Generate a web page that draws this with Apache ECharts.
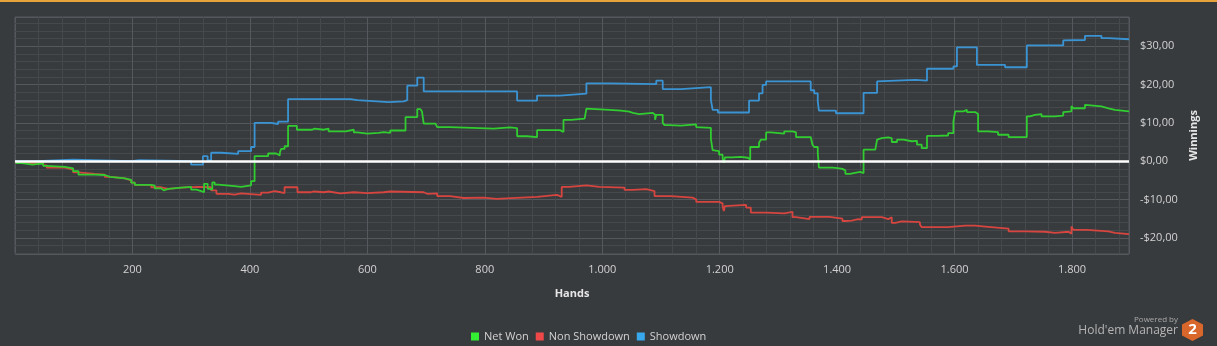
<!DOCTYPE html>
<html>
<head>
<meta charset="utf-8">
<script src="https://cdn.jsdelivr.net/npm/echarts@6/dist/echarts.min.js"></script>
<style>
  html, body { margin: 0; padding: 0; background: #383b3e; }
  #chart { width: 1217px; height: 346px; }
</style>
</head>
<body>
<div id="chart"></div>
<script>
// Cumulative winnings per hand: [hand, dollars], each value holds until the next hand listed
const netWon = [
  [1,-0.5],[12,-0.9],[30,-0.7],[40,-0.6],[48,-1.2],[54,-1.5],[85,-1.9],[99,-2.6],[108,-3.5],[136,-3.6],
  [153,-4.1],[162,-4.5],[187,-4.9],[198,-5.6],[204,-6.2],[232,-6.4],[238,-7.1],[249,-7.6],[253,-7.2],[261,-6.9],
  [283,-6.7],[300,-7.4],[309,-7.8],[317,-8.1],[322,-5.9],[328,-7.2],[332,-7.4],[336,-5.5],[340,-6.1],[346,-6.5],
  [374,-6.7],[385,-6.3],[402,-5.2],[408,1.3],[431,2.0],[445,1.5],[451,2.2],[453,3.2],[459,3.9],[465,9.2],
  [480,8.2],[506,8.5],[510,8.2],[526,8.5],[534,7.8],[563,8.2],[577,7.5],[583,7.2],[600,7.4],[619,7.6],
  [628,7.4],[639,8.0],[665,11.5],[685,13.6],[690,13.4],[693,13.0],[696,9.8],[716,9.3],[719,8.9],[741,8.5],
  [815,8.8],[843,8.6],[855,6.5],[872,6.3],[889,8.1],[928,7.6],[934,10.8],[947,11.1],[970,11.3],[973,13.7],
  [976,13.4],[1012,13.2],[1032,12.9],[1046,12.6],[1052,12.3],[1063,12.6],[1086,12.1],[1090,10.8],[1092,12.1],[1103,10.0],
  [1106,9.4],[1114,9.3],[1134,9.6],[1160,8.9],[1163,8.7],[1185,5.8],[1188,2.9],[1191,2.6],[1199,1.7],[1205,0.7],
  [1207,-0.4],[1209,1.0],[1222,1.1],[1236,0.9],[1248,0.4],[1252,3.7],[1267,4.8],[1270,5.6],[1279,7.5],[1287,7.2],
  [1310,7.8],[1324,7.5],[1330,6.3],[1355,6.4],[1358,4.3],[1361,3.7],[1367,2.2],[1369,-1.7],[1392,-1.8],[1401,-2.0],
  [1409,-2.4],[1414,-3.3],[1422,-2.8],[1439,-3.1],[1445,3.0],[1465,2.7],[1468,5.6],[1470,6.0],[1476,6.2],[1487,6.0],
  [1493,5.0],[1502,5.6],[1513,5.2],[1527,5.3],[1536,4.3],[1544,3.4],[1553,6.6],[1570,6.7],[1589,7.3],[1598,10.4],
  [1601,13.0],[1615,13.4],[1621,12.8],[1635,12.3],[1640,7.8],[1657,7.6],[1674,6.9],[1692,6.3],[1723,11.7],[1728,12.1],
  [1737,12.3],[1748,11.7],[1771,11.9],[1785,12.8],[1788,13.0],[1799,14.4],[1802,13.8],[1822,14.7],[1825,14.3],[1850,13.8],
  [1862,13.4],[1873,13.0],[1897,13.0]
];

const nonShowdown = [
  [1,-0.4],[12,-0.6],[40,-0.4],[48,-1.1],[54,-1.7],[85,-2.2],[99,-2.9],[108,-3.3],[136,-3.5],[153,-4.1],
  [164,-4.5],[187,-5.0],[198,-5.6],[204,-6.2],[232,-6.8],[249,-7.2],[261,-6.9],[283,-6.7],[312,-6.8],[334,-7.6],
  [343,-8.5],[363,-8.7],[374,-8.4],[385,-8.8],[419,-8.2],[431,-7.8],[442,-8.1],[453,-8.3],[459,-6.8],[481,-8.1],
  [503,-7.9],[509,-8.1],[526,-7.9],[534,-8.4],[554,-8.1],[577,-8.3],[600,-8.1],[628,-7.9],[639,-8.1],[696,-8.5],
  [702,-8.4],[719,-9.1],[741,-9.6],[764,-9.5],[798,-9.8],[820,-9.3],[889,-8.8],[923,-9.3],[931,-6.7],[944,-6.3],
  [973,-6.7],[995,-6.9],[1038,-7.5],[1052,-7.3],[1075,-7.8],[1089,-9.1],[1117,-9.5],[1154,-10.0],[1160,-10.6],[1199,-11.0],
  [1205,-11.7],[1207,-13.0],[1209,-11.7],[1211,-11.4],[1245,-12.1],[1253,-13.4],[1279,-13.6],[1310,-13.2],[1324,-14.6],[1330,-15.1],
  [1353,-14.5],[1387,-15.0],[1409,-15.6],[1414,-15.5],[1425,-15.1],[1436,-15.2],[1442,-14.6],[1476,-15.1],[1487,-14.6],[1493,-16.1],
  [1499,-15.7],[1510,-15.9],[1541,-16.5],[1544,-17.2],[1589,-16.8],[1618,-16.3],[1621,-16.8],[1635,-17.1],[1657,-17.6],[1692,-18.3],
  [1720,-18.4],[1754,-18.7],[1771,-18.4],[1794,-18.9],[1799,-17.0],[1802,-17.9],[1825,-18.3],[1862,-18.7],[1873,-19.0],[1897,-19.0]
];

const showdown = [
  [1,0],[37,0.4],[99,0],[198,0.25],[212,0],[300,-0.9],[320,1.3],[328,0.2],[334,2.2],[351,1.9],
  [380,2.6],[402,3.7],[408,10.0],[436,9.7],[448,10.3],[465,16.2],[571,15.9],[583,15.4],[636,15.6],[662,15.9],
  [668,19.7],[685,21.8],[696,18.2],[855,15.8],[889,17.1],[928,17.6],[973,20.3],[1015,20.1],[1092,21.0],[1103,18.8],
  [1134,19.3],[1185,16.0],[1188,13.4],[1197,12.7],[1250,15.8],[1267,17.7],[1273,19.9],[1279,20.8],[1355,18.5],[1361,17.7],
  [1367,15.6],[1369,13.2],[1398,12.5],[1445,17.8],[1468,20.8],[1470,21.2],[1533,21.0],[1553,24.1],[1598,24.7],[1604,29.7],
  [1638,25.1],[1686,24.5],[1723,30.2],[1785,31.5],[1788,31.6],[1822,32.7],[1850,32.1],[1862,31.8],[1897,31.8]
];

const seriesNames = ['Net Won', 'Non Showdown', 'Showdown'];
const handsRange = [0, 1897];
const winningsRange = [-24.2, 37.6];

const FONT = '"Open Sans", "DejaVu Sans", sans-serif';
const GRID_MAJOR = '#55595d';
const GRID_MINOR = '#45494c';
const LABEL_COLOR = '#d2d2d2';

function handLabel(v) {
  if (v <= 0 || v % 200 !== 0) return '';
  if (v >= 1000) return Math.floor(v / 1000) + '.' + String(v % 1000).padStart(3, '0');
  return String(v);
}

function dollarLabel(v) {
  const r = Math.round(v);
  if (Math.abs(v - r) > 1e-6 || r % 10 !== 0) return '';
  return (r < 0 ? '-' : '') + '$' + Math.abs(r).toFixed(2).replace('.', ',');
}

const chart = echarts.init(document.getElementById('chart'), null, { renderer: 'canvas' });

chart.setOption({
  backgroundColor: '#383b3e',
  animation: false,
  textStyle: { fontFamily: FONT },
  grid: {
    left: 15, top: 17, right: 88, bottom: 92,
    show: true, borderColor: GRID_MAJOR, borderWidth: 1, backgroundColor: 'transparent'
  },
  legend: {
    left: 466, top: 326,
    icon: 'rect', itemWidth: 8, itemHeight: 8, itemGap: 7,
    textStyle: { color: LABEL_COLOR, fontSize: 11, fontFamily: FONT },
    data: [
      { name: seriesNames[0], itemStyle: { color: '#33ee33' } },
      { name: seriesNames[1], itemStyle: { color: '#ee4848' } },
      { name: seriesNames[2], itemStyle: { color: '#38a8ec' } }
    ]
  },
  xAxis: {
    type: 'value',
    min: handsRange[0], max: handsRange[1], interval: 200,
    name: 'Hands', nameLocation: 'middle', nameGap: 34,
    nameTextStyle: { color: '#e6e6e6', fontWeight: 'bold', fontSize: 11, fontFamily: FONT },
    axisLine: { show: true, lineStyle: { color: GRID_MAJOR } },
    axisTick: { show: true, length: 5, lineStyle: { color: GRID_MAJOR } },
    minorTick: { show: true, splitNumber: 5, length: 5, lineStyle: { color: GRID_MAJOR } },
    splitLine: { show: true, lineStyle: { color: GRID_MAJOR, width: 1 } },
    minorSplitLine: { show: true, lineStyle: { color: GRID_MINOR, width: 1 } },
    axisLabel: { color: LABEL_COLOR, fontSize: 11, margin: 10, formatter: handLabel, fontFamily: FONT }
  },
  yAxis: {
    type: 'value', position: 'right',
    min: winningsRange[0], max: winningsRange[1],
    splitNumber: 6, minInterval: 10, maxInterval: 10,
    name: 'Winnings', nameLocation: 'middle', nameGap: 58, nameRotate: 90,
    nameTextStyle: { color: '#e6e6e6', fontWeight: 'bold', fontSize: 11, fontFamily: FONT },
    axisLine: { show: false },
    axisTick: { show: true, length: 8, lineStyle: { color: GRID_MAJOR } },
    minorTick: { show: true, splitNumber: 5, length: 8, lineStyle: { color: GRID_MINOR } },
    splitLine: { show: true, lineStyle: { color: GRID_MAJOR, width: 1 } },
    minorSplitLine: { show: true, lineStyle: { color: GRID_MINOR, width: 1 } },
    axisLabel: { color: LABEL_COLOR, fontSize: 11, margin: 11, formatter: dollarLabel, fontFamily: FONT,
                 showMinLabel: false, showMaxLabel: false }
  },
  series: [
    {
      name: seriesNames[0], type: 'line', step: 'end', data: netWon, z: 4,
      showSymbol: false, symbol: 'none',
      itemStyle: { color: '#33ee33' },
      lineStyle: { color: '#30cc30', width: 1.8 },
      markLine: {
        silent: true, symbol: ['none', 'none'], z: 6,
        label: { show: false },
        lineStyle: { color: '#ffffff', width: 2.5, type: 'solid' },
        data: [{ yAxis: 0 }]
      }
    },
    {
      name: seriesNames[1], type: 'line', step: 'end', data: nonShowdown, z: 2,
      showSymbol: false, symbol: 'none',
      itemStyle: { color: '#ee4848' },
      lineStyle: { color: '#d6453f', width: 1.8 }
    },
    {
      name: seriesNames[2], type: 'line', step: 'end', data: showdown, z: 3,
      showSymbol: false, symbol: 'none',
      itemStyle: { color: '#38a8ec' },
      lineStyle: { color: '#3a94d4', width: 1.8 }
    }
  ],
  graphic: [
    { type: 'rect', left: 0, top: 0, shape: { width: 1217, height: 2 }, style: { fill: '#e8a23c' }, silent: true },
    { type: 'text', right: 39, top: 316, style: { text: 'Powered by', fill: '#a9a9a9', fontSize: 8, fontFamily: FONT, align: 'right' } },
    { type: 'text', right: 39, top: 325, style: { text: "Hold'em Manager", fill: '#b4b4b4', fontSize: 12, fontFamily: FONT, align: 'right' } },
    {
      type: 'group', left: 1182, top: 319,
      children: [
        { type: 'polygon', shape: { points: [[10.5,0],[21,5.5],[21,16.5],[10.5,22],[0,16.5],[0,5.5]] }, style: { fill: '#d9662a' } },
        { type: 'text', x: 10.5, y: 11, style: { text: '2', fill: '#ffffff', fontSize: 15, fontWeight: 'bold', fontFamily: FONT, align: 'center', verticalAlign: 'middle' } }
      ]
    }
  ]
});
</script>
</body>
</html>
